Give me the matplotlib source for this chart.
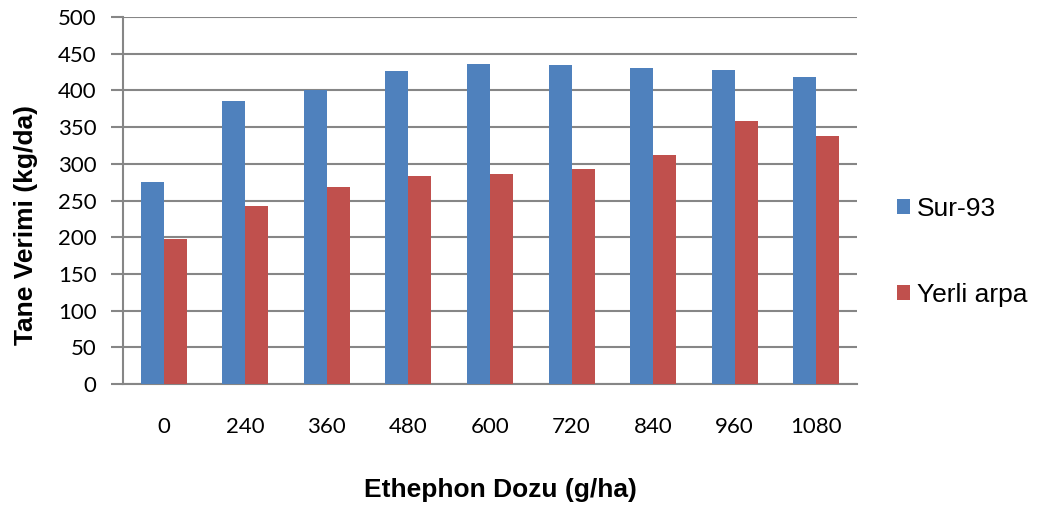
import matplotlib
matplotlib.use("Agg")
from matplotlib import pyplot as plt
import numpy as np

plt.rcParams['font.family'] = ['Liberation Sans', 'DejaVu Sans']

# ______DATA______
doses = ["0", "240", "360", "480", "600", "720", "840", "960", "1080"]
sur93 = [275, 385, 400, 427, 436, 434, 431, 428, 418]
yerliArpa = [197, 242, 269, 284, 286, 293, 312, 358, 338]
seriesNames = ["Sur-93", "Yerli arpa"]

blue = "#4F81BD"
red = "#C0504D"
gridGray = "#868686"

# ______FIGURE______
fig = plt.figure(figsize=(10.37, 5.05), dpi=100)
ax = fig.add_axes([0.1186, 0.2396, 0.8264 - 0.1186, 0.9663 - 0.2396])

x = np.arange(len(doses))
barWidth = 0.282
ax.bar(x - barWidth / 2, sur93, barWidth, color=blue, label=seriesNames[0], zorder=3)
ax.bar(x + barWidth / 2, yerliArpa, barWidth, color=red, label=seriesNames[1], zorder=3)

ax.set_xlim(-0.5, len(doses) - 0.5)
ax.set_ylim(0, 500)
ax.set_yticks(np.arange(0, 501, 50))
ax.set_xticks(x)
ax.set_xticklabels(doses)

ax.yaxis.grid(True, color=gridGray, linewidth=1.5, zorder=0)
ax.set_axisbelow(True)
for side in ["top", "right"]:
    ax.spines[side].set_visible(False)
for side in ["left", "bottom"]:
    ax.spines[side].set_color(gridGray)
    ax.spines[side].set_linewidth(1.5)

# tick labels look like Calibri in the original, Lato is the closest we have
ax.tick_params(axis="y", direction="out", length=9, width=1.5, color=gridGray, pad=10)
ax.tick_params(axis="x", length=0, pad=24)
for lbl in ax.get_xticklabels() + ax.get_yticklabels():
    lbl.set_fontfamily(["Lato", "DejaVu Sans"])
    lbl.set_fontsize(16)

ax.set_xlabel("Ethephon Dozu (g/ha)", fontsize=19, fontweight="bold")
ax.set_ylabel("Tane Verimi (kg/da)", fontsize=19, fontweight="bold")
ax.xaxis.set_label_coords(0.514, -0.256)
ax.yaxis.set_label_coords(-0.116, 0.433)

fig.legend(loc="center left", bbox_to_anchor=(0.865, 0.501), frameon=False,
           fontsize=19, handlelength=0.5, handleheight=0.5, handletextpad=0.27,
           labelspacing=2.33, borderpad=0, borderaxespad=0)

fig.savefig("out.png", dpi=100)
